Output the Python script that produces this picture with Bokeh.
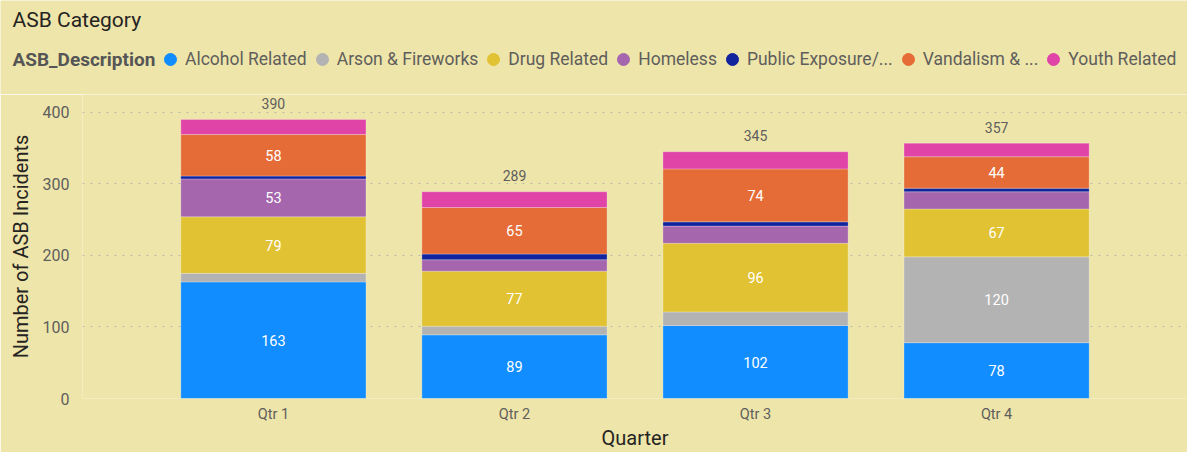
from bokeh.plotting import figure
from bokeh.layouts import column
from bokeh.models import (ColumnDataSource, FactorRange, Range1d, FixedTicker, Legend,
                          LegendItem, Label)
from bokeh.core.properties import value
from bokeh.embed import file_html
from bokeh.resources import INLINE

# ---------------- data ----------------
quarters = ["Qtr 1", "Qtr 2", "Qtr 3", "Qtr 4"]
categories = ["Alcohol Related", "Arson & Fireworks", "Drug Related", "Homeless",
              "Public Exposure/...", "Vandalism & ...", "Youth Related"]
alcohol = [163, 89, 102, 78]
arson = [12, 12, 19, 120]
drug = [79, 77, 96, 67]
homeless = [53, 16, 24, 24]
public = [4, 8, 6, 5]
vandalism = [58, 65, 74, 44]
youth = [21, 22, 24, 19]
y_ticks = [0, 100, 200, 300, 400]

series = [alcohol, arson, drug, homeless, public, vandalism, youth]
colors = ["#118DFF", "#B3B3B3", "#E0C232", "#A566AD", "#12239E", "#E66C37", "#E044A7"]
keys = ["s%d" % i for i in range(len(series))]

BG = "#EEE5AA"
FONT = "Roboto"
W = 1187
HEAD_H = 94
MAIN_H = 358
NAN = float("nan")

# ---------------- header (title + legend) ----------------
head = figure(width=W, height=HEAD_H, x_range=Range1d(0, W), y_range=Range1d(0, HEAD_H),
              x_axis_type=None, y_axis_type=None, output_backend="svg", toolbar_location=None,
              min_border=0, min_border_left=0, min_border_right=0, min_border_top=0,
              min_border_bottom=0)
head.background_fill_color = BG
head.border_fill_color = BG
head.outline_line_color = None
head.xgrid.visible = False
head.ygrid.visible = False
if "frame_align" in head.properties():
    head.frame_align = False

head.add_layout(Label(x=12, y=HEAD_H - 19, text="ASB Category",
                      text_font=FONT, text_font_size="21px", text_color="#252423",
                      text_baseline="middle"))
head.add_layout(Label(x=12, y=HEAD_H - 59, text="ASB_Description",
                      text_font=FONT, text_font_size="19px", text_font_style="bold",
                      text_color="#555555", text_baseline="middle"))

items = []
for name, c in zip(categories, colors):
    r = head.scatter(x=[NAN], y=[NAN], marker="circle", size=12, fill_color=c, line_color=c)
    items.append(LegendItem(label=name, renderers=[r]))
legend = Legend(items=items, orientation="horizontal", location=(155, HEAD_H - 59 - 15),
                glyph_width=30, glyph_height=30, label_standoff=0, spacing=-10,
                padding=0, margin=0, background_fill_alpha=0, border_line_alpha=0,
                label_text_font=FONT, label_text_font_size="17.5px",
                label_text_color="#605E5C")
head.add_layout(legend)

# ---------------- main chart ----------------
data = {"quarter": quarters}
for k, s in zip(keys, series):
    data[k] = s
source = ColumnDataSource(data)

p = figure(x_range=FactorRange(factors=quarters, range_padding=0.146, range_padding_units="percent"),
           y_range=Range1d(0, 425),
           width=W, height=MAIN_H, output_backend="svg", toolbar_location=None,
           min_border_left=82, min_border_right=0, min_border_top=0, min_border_bottom=50)
p.background_fill_color = BG
p.border_fill_color = BG
p.outline_line_color = None
if "frame_align" in p.properties():
    p.frame_align = False

p.vbar_stack(keys, x="quarter", width=0.768, color=colors, source=source,
             line_color="white", line_alpha=0.25, line_width=1)

# segment labels
lx, ly, lt = [], [], []
for qi, q in enumerate(quarters):
    base = 0
    for s in series:
        v = s[qi]
        if v >= 40:
            lx.append(q)
            ly.append(base + v / 2)
            lt.append(str(v))
        base += v
p.text(x=lx, y=ly, text=lt, text_align="center", text_baseline="middle",
       text_color="white", text_font=value(FONT), text_font_size="14.5px")

# totals
totals = [sum(s[i] for s in series) for i in range(len(quarters))]
p.text(x=quarters, y=totals, text=[str(t) for t in totals], text_align="center",
       text_baseline="middle", y_offset=-16, text_color="#605E5C",
       text_font=value(FONT), text_font_size="14px")

# axes
p.yaxis.ticker = FixedTicker(ticks=y_ticks)
for ax in (p.xaxis[0], p.yaxis[0]):
    ax.axis_line_color = None
    ax.major_tick_line_color = None
    ax.minor_tick_line_color = None
    ax.major_tick_out = 0
    ax.major_tick_in = 0
    ax.minor_tick_out = 0
    ax.major_label_text_color = "#605E5C"
    ax.major_label_text_font = FONT
    ax.axis_label_text_font = FONT
    ax.axis_label_text_font_style = "normal"
    ax.axis_label_text_color = "#252423"
p.yaxis.major_label_text_font_size = "16px"
p.yaxis.major_label_standoff = 13
p.yaxis.axis_label = "Number of ASB Incidents"
p.yaxis.axis_label_text_font_size = "20px"
p.yaxis.axis_label_standoff = 7
p.xaxis.major_label_text_font_size = "14.5px"
p.xaxis.major_label_standoff = 7
p.xaxis.axis_label = "Quarter"
p.xaxis.axis_label_text_font_size = "20px"
p.xaxis.axis_label_standoff = 0

p.xgrid.visible = False
p.ygrid.grid_line_color = "#BDBAA8"
p.ygrid.grid_line_dash = "2 6"
p.ygrid.grid_line_width = 1

layout = column(head, p, spacing=0)
open("out.html", "w").write(file_html(layout, INLINE))
